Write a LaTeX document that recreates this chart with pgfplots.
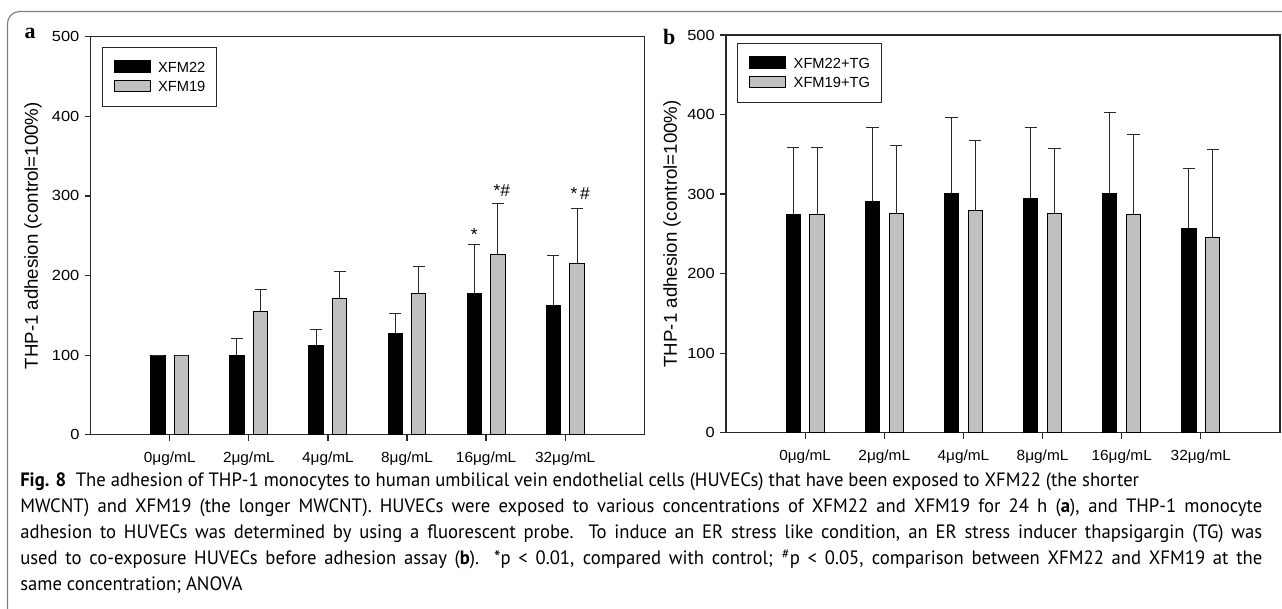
\documentclass[border=0pt]{standalone}
\usepackage{fontspec}
\setmainfont{Liberation Sans}
\newfontfamily\serifb{Liberation Serif}
\newfontfamily\capfont{PT Sans}[FakeStretch=0.965]
\usepackage{pgfplots}
\pgfplotsset{compat=1.18}
\definecolor{bargray}{RGB}{192,192,192}
\definecolor{axisc}{RGB}{40,40,40}
\pgfplotsset{
  panel/.style={
    scale only axis,
    xmin=-1, xmax=6, ymin=0, ymax=500,
    xtick={0,1,2,3,4,5},
    xticklabels={0μg/mL,2μg/mL,4μg/mL,8μg/mL,16μg/mL,32μg/mL},
    ytick={0,100,200,300,400,500},
    tick pos=left,
    tick align=outside,
    major tick length=4.5pt,
    axis line style={axisc, line width=0.9pt},
    every tick/.style={axisc, line width=0.9pt},
    /pgf/number format/assume math mode=true,
    xticklabel style={font=\fontsize{11}{13}\selectfont, xscale=1.05, yshift=-5pt},
    yticklabel style={font=\fontsize{11}{13}\selectfont, xscale=1.12},
    ylabel={THP-1 adhesion (control=100\%)},
    ylabel style={font=\fontsize{14}{16}\selectfont, anchor=center},
    legend style={draw=axisc, line width=0.75pt, fill=white,
      inner xsep=8.7pt, inner ysep=8.2pt, row sep=1.5pt, column sep=5.5pt,
      font=\fontsize{11}{13}\selectfont, cells={anchor=base west},
      nodes={inner sep=0pt, text height=10pt, text depth=3pt}},
    legend image code/.code={\draw[#1] (0pt,0pt) rectangle (27pt,8.5pt);},
  },
  errs/.style={error bars/.cd, y dir=plus, y explicit,
    error bar style={line width=0.75pt, color=axisc, solid},
    error mark=|,
    error mark options={line width=0.75pt, color=axisc, mark size=4.6pt, solid}},
  blackbar/.style={ybar, bar width=0.18, bar shift=0pt, fill=black, draw=black, line width=0.75pt, errs},
  graybar/.style={ybar, bar width=0.18, bar shift=0pt, fill=bargray, draw=black, line width=0.75pt, errs},
}
\begin{document}
\begin{tikzpicture}
\useasboundingbox (0pt,0pt) rectangle (961.5pt,456.75pt);
% frame
\draw[line width=0.9pt, color=black!50] (5.6pt,-1pt) -- (5.6pt,439.1pt) arc[start angle=180,end angle=90,radius=9pt] -- (963pt,448.1pt);

% panel a
\begin{axis}[panel, at={(68.0pt,130.7pt)}, anchor=south west, width=415.2pt, height=298.5pt,
  ylabel style={at={(axis description cs:-0.104,0.5)}},
  legend style={at={(0.0199,0.973)}, anchor=north west}]
\addplot[blackbar] coordinates {(-0.15,100) +- (0,0) (0.85,100) +- (0,21) (1.85,112.5) +- (0,20) (2.85,127.5) +- (0,24.5) (3.85,177) +- (0,62) (4.85,162) +- (0,63.5)};
\addplot[graybar] coordinates {(0.15,100) +- (0,0) (1.15,155) +- (0,27) (2.15,171) +- (0,34) (3.15,177.5) +- (0,33.5) (4.15,227) +- (0,63) (5.15,215.5) +- (0,68.5)};
\legend{XFM22,XFM19}
\node[font=\fontsize{13}{15}\selectfont, anchor=base] at (axis cs:3.85,244) {*};
\node[font=\fontsize{13}{15}\selectfont, anchor=base] at (axis cs:4.2,299) {*\#};
\node[font=\fontsize{13}{15}\selectfont, anchor=base] at (axis cs:5.19,295) {*\,\#};
\end{axis}

% panel b
\begin{axis}[panel, at={(544.5pt,132.2pt)}, anchor=south west, width=415.5pt, height=298.3pt,
  ylabel style={at={(axis description cs:-0.0975,0.5)}},
  legend style={at={(0.0204,0.979)}, anchor=north west}]
\addplot[blackbar] coordinates {(-0.15,274) +- (0,84) (0.85,290.5) +- (0,93) (1.85,301) +- (0,95.5) (2.85,294.5) +- (0,89) (3.85,301) +- (0,102) (4.85,257) +- (0,75.5)};
\addplot[graybar] coordinates {(0.15,274) +- (0,84) (1.15,275) +- (0,86) (2.15,279) +- (0,88.5) (3.15,275) +- (0,82) (4.15,274.5) +- (0,100) (5.15,246) +- (0,110)};
\legend{XFM22+TG,XFM19+TG}
\end{axis}

% panel letters
\node[font=\serifb\bfseries\fontsize{16.5}{18}\selectfont, anchor=base] at (22.5pt,428.2pt) {a};
\node[font=\serifb\bfseries\fontsize{16.5}{18}\selectfont, anchor=base] at (502pt,423pt) {b};

% caption
\begin{scope}[every node/.style={anchor=base west, inner sep=0pt, font=\capfont\fontsize{14.5}{16}\selectfont}]
\node at (15pt,91.5pt) {\textbf{Fig. 8}\enspace The adhesion of THP-1 monocytes to human umbilical vein endothelial cells (HUVECs) that have been exposed to XFM22 (the shorter};
\node at (15pt,72pt) {\hbox to 931.5pt{MWCNT) and XFM19 (the longer MWCNT). HUVECs were exposed to various concentrations of XFM22 and XFM19 for 24 h (\textbf{a}), and THP-1 monocyte}};
\node at (15pt,52.5pt) {\hbox to 931.5pt{adhesion to HUVECs was determined by using a fluorescent probe. To induce an ER stress like condition, an ER stress inducer thapsigargin (TG) was}};
\node at (15pt,33pt) {\hbox to 931.5pt{used to co-exposure HUVECs before adhesion assay (\textbf{b}). *p < 0.01, compared with control; \textsuperscript{\#}p < 0.05, comparison between XFM22 and XFM19 at the}};
\node at (15pt,13.5pt) {same concentration; ANOVA};
\end{scope}
\end{tikzpicture}
\end{document}
